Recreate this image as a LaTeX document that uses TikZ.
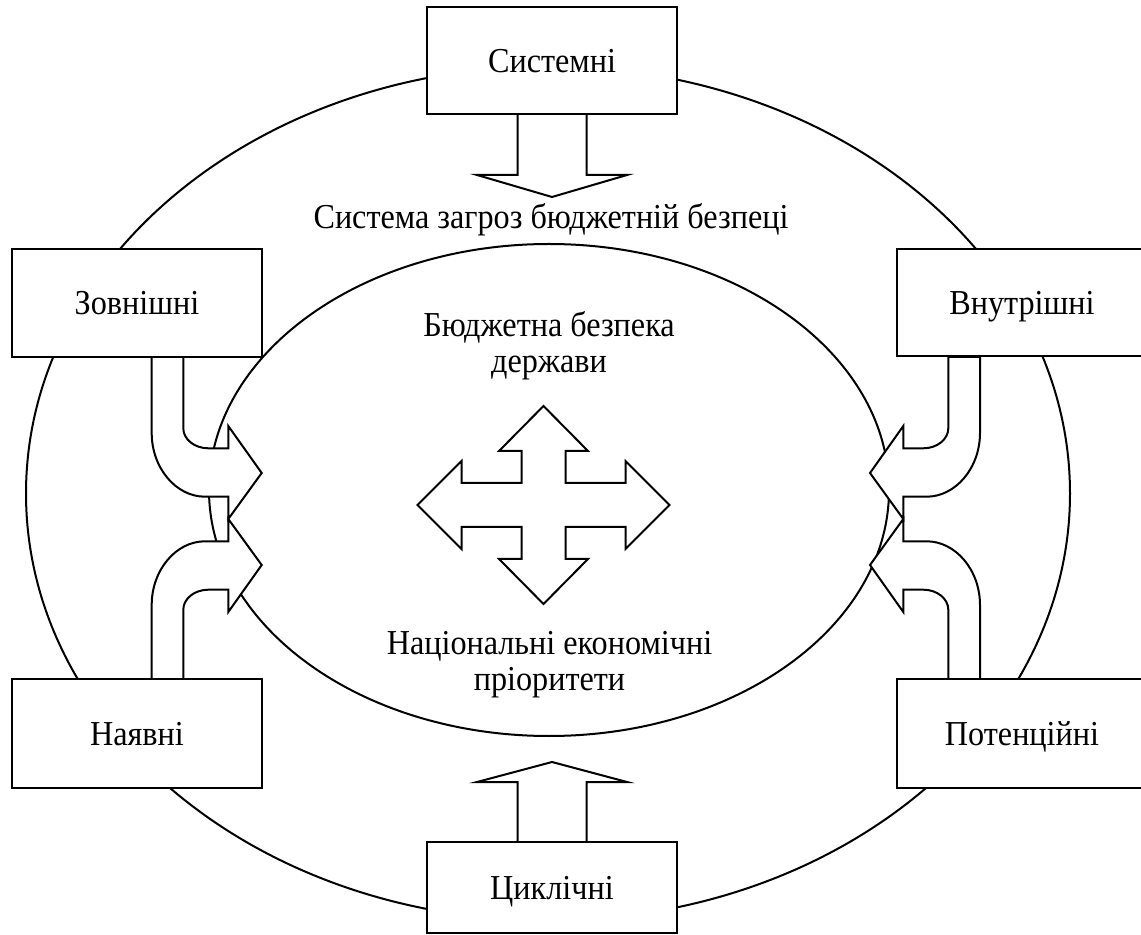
\documentclass[tikz,border=0pt]{standalone}
\usepackage{fontspec}
\setmainfont{Liberation Serif}[FakeStretch=0.92]
\begin{document}
\begin{tikzpicture}[x=0.5pt,y=-0.5pt,
  thin line/.style={line width=1pt},
  box/.style={draw,line width=1.4pt,fill=white,minimum width=125pt,inner sep=0pt,
    text height=12.6pt,text depth=1pt,font=\fontsize{17.5}{18}\selectfont},
  blockarrow/.style={draw,fill=white,line width=1pt,line join=miter},
  lbl/.style={font=\fontsize{17.5}{18}\selectfont,align=center,inner sep=0pt}]
\useasboundingbox (0,0) rectangle (1141,935);
\clip (0,0) rectangle (1141,935);

% outer and inner rings
\draw[thin line] (548,493.5) ellipse [x radius=522, y radius=427];
\draw[thin line] (549,490) ellipse [x radius=340, y radius=246];

% bent arrows on the left
\draw[blockarrow] (151.7,357) -- (151.7,433) .. controls (151.7,468) and (176,496.7) .. (205,496.7)
  -- (228.3,496.7) -- (228.3,519) -- (261.7,473) -- (228.3,426) -- (228.3,448.3) -- (208.3,448.3)
  .. controls (194.5,448.3) and (183.3,439.3) .. (183.3,428.3) -- (183.3,357) -- cycle;
\draw[blockarrow] (151.7,679) -- (151.7,605) .. controls (151.7,570) and (176,541.3) .. (205,541.3)
  -- (228.3,541.3) -- (228.3,519) -- (261.7,565) -- (228.3,612) -- (228.3,589.7) -- (208.3,589.7)
  .. controls (194.5,589.7) and (183.3,598.7) .. (183.3,609.7) -- (183.3,679) -- cycle;

% bent arrows on the right
\draw[blockarrow] (980,357) -- (980,433) .. controls (980,468) and (955.6,496.7) .. (926.6,496.7)
  -- (903.3,496.7) -- (903.3,519) -- (870,473) -- (903.3,426) -- (903.3,448.3) -- (923.3,448.3)
  .. controls (937.1,448.3) and (948.3,439.3) .. (948.3,428.3) -- (948.3,357) -- cycle;
\draw[blockarrow] (980,679) -- (980,605) .. controls (980,570) and (955.6,541.3) .. (926.6,541.3)
  -- (903.3,541.3) -- (903.3,519) -- (870,565) -- (903.3,612) -- (903.3,589.7) -- (923.3,589.7)
  .. controls (937.1,589.7) and (948.3,598.7) .. (948.3,609.7) -- (948.3,679) -- cycle;

% straight arrows top and bottom
\draw[blockarrow] (517.5,114) -- (517.5,175) -- (477,175) -- (552,197) -- (627,175)
  -- (586.5,175) -- (586.5,114);
\draw[blockarrow] (517.5,842) -- (517.5,782) -- (477,782) -- (552,762) -- (627,782)
  -- (586.5,782) -- (586.5,842);

% four-way arrow in the centre
\draw[blockarrow] (543.5,406) -- (588,451) -- (565.5,451) -- (565.5,483) -- (625.5,483)
  -- (625.5,461) -- (669.5,505) -- (625.5,549) -- (625.5,527) -- (565.5,527) -- (565.5,559)
  -- (588,559) -- (543.5,604) -- (499,559) -- (521.5,559) -- (521.5,527) -- (461.5,527)
  -- (461.5,549) -- (417.5,505) -- (461.5,461) -- (461.5,483) -- (521.5,483) -- (521.5,451)
  -- (499,451) -- cycle;

% kinds of threats
\node[box,minimum height=53.5pt] (sys) at (552,60.5) {Системні};
\node[box,minimum height=54pt]   (zov) at (137,303) {Зовнішні};
\node[box,minimum height=53.5pt] (vnu) at (1022,302.5) {Внутрішні};
\node[box,minimum height=54.5pt] (nay) at (137,733.5) {Наявні};
\node[box,minimum height=54.5pt] (pot) at (1022,733.5) {Потенційні};
\node[box,minimum height=45.5pt] (cyk) at (552,887.5) {Циклічні};

% captions
\node[lbl] (threats) at (551,220) {Система загроз бюджетній безпеці};
\node[lbl] (budget) at (549,346) {Бюджетна безпека\\держави};
\node[lbl] (prior) at (549.5,665) {Національні економічні\\пріоритети};
\end{tikzpicture}
\end{document}
